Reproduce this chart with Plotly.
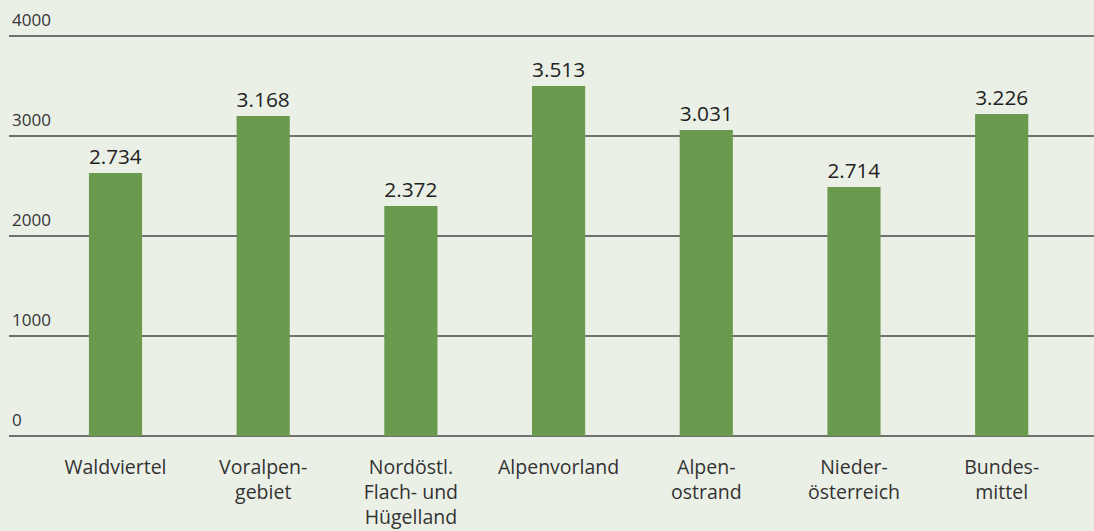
import plotly.graph_objects as go

# Source data
categories = [
    "Waldviertel",
    "Voralpen-<br>gebiet",
    "Nordöstl.<br>Flach- und<br>Hügelland",
    "Alpenvorland",
    "Alpen-<br>ostrand",
    "Nieder-<br>österreich",
    "Bundes-<br>mittel",
]
# bar heights as drawn in the picture
values = [2630, 3200, 2300, 3500, 3060, 2490, 3220]
# value labels as printed above the bars
value_labels = ["2.734", "3.168", "2.372", "3.513", "3.031", "2.714", "3.226"]
y_ticks = [0, 1000, 2000, 3000, 4000]

bg = "#ebf0e6"
bar_green = "#6a9a4e"
grid_grey = "#707070"
text_col = "#2b2b2b"

fig = go.Figure(go.Bar(
    x=list(range(len(categories))),
    y=values,
    text=value_labels,
    textposition="outside",
    textfont=dict(family="Open Sans", size=22, color="#222222"),
    marker=dict(color=bar_green, line=dict(width=0)),
    width=0.36,
    cliponaxis=False,
    hoverinfo="skip",
))

fig.update_layout(
    width=1094,
    height=531,
    paper_bgcolor=bg,
    plot_bgcolor=bg,
    margin=dict(l=9, r=0, t=0, b=95),
    showlegend=False,
    font=dict(family="Open Sans", color=text_col),
    xaxis=dict(
        tickmode="array",
        tickvals=list(range(len(categories))),
        ticktext=categories,
        range=[-0.721, 6.625],
        showgrid=False,
        zeroline=False,
        showline=False,
        ticks="",
        tickfont=dict(size=19.5, color="#333333"),
        ticklabelstandoff=17,
        automargin=False,
    ),
    yaxis=dict(
        range=[0, 4360],
        tickmode="array",
        tickvals=y_ticks,
        ticktext=[str(v) for v in y_ticks],
        ticklabelposition="inside top",
        ticklabelshift=-4,
        tickfont=dict(size=17, color="#333333"),
        showgrid=True,
        gridcolor=grid_grey,
        gridwidth=1.5,
        zeroline=True,
        zerolinecolor=grid_grey,
        zerolinewidth=2,
        ticks="",
        automargin=False,
    ),
)

fig.write_html(
    "out.html",
    config={"displayModeBar": False},
    post_script="document.body.style.margin='0';",
)
